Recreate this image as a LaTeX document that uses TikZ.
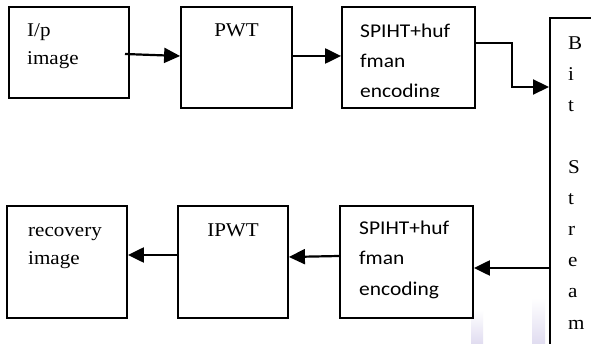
\documentclass[tikz,border=0pt]{standalone}
\usepackage{fontspec}
\setmainfont{Liberation Serif}[FakeStretch=1.08]
\newfontfamily\calib{Carlito}[FakeStretch=1.1]
\usetikzlibrary{arrows.meta}
\definecolor{lav}{RGB}{224,220,240}
\tikzset{
  box/.style 2 args={draw, line width=1.8pt, inner sep=0pt, minimum width=#1, minimum height=#2},
  arr/.style={line width=2.2pt, -{Triangle[length=16pt,width=15pt]}},
  txt/.style={anchor=base west, inner sep=0pt, font=\fontsize{19.5}{28}\selectfont},
  stxt/.style={anchor=base west, inner sep=0pt, font=\calib\fontsize{19.5}{29}\selectfont},
  ctxt/.style={anchor=base, inner sep=0pt, font=\fontsize{19.5}{28}\selectfont}
}
\begin{document}
\begin{tikzpicture}[x=1pt,y=-1pt]
\useasboundingbox (0,0) rectangle (591,344);
\clip (0,0) rectangle (591,344);
\fill[white] (0,0) rectangle (591,344);
% faint watermark bars
\shade[top color=white, bottom color=lav] (471,310) rectangle (483,344);
\shade[top color=white, bottom color=lav] (532,298) rectangle (545,344);
% boxes
\node[box={120pt}{91pt}] (b1) at (69,52.5) {};
\node[box={111pt}{101pt}] (b2) at (236.5,57.5) {};
\node[box={133pt}{101pt}] (b3) at (408.5,57.5) {};
\node[draw, line width=1.8pt, inner sep=0pt, anchor=north west, minimum width=90pt, minimum height=360pt] (bit) at (549,17) {};
\node[box={133pt}{112pt}] (b4) at (406.5,262) {};
\node[box={110pt}{112pt}] (b5) at (233,262) {};
\node[box={120pt}{112pt}] (b6) at (67,262) {};
% texts
\node[txt] (t1a) at (27,37) {I/p};
\node[txt] (t1b) at (27,65) {image};
\node[ctxt] (t2) at (b2.center |- 0,37) {PWT};
\begin{scope}
\clip (342,7) rectangle (475,96.5);
\node[stxt] (t3a) at (360,38) {SPIHT+huf};
\node[stxt] (t3b) at (360,68) {fman};
\node[stxt] (t3c) at (360,97.5) {encoding};
\end{scope}
\node[stxt] (t4a) at (359,235) {SPIHT+huf};
\node[stxt] (t4b) at (359,265) {fman};
\node[stxt] (t4c) at (359,295) {encoding};
\node[ctxt] (t5) at (b5.center |- 0,237) {IPWT};
\node[txt] (t6a) at (28,237) {recovery};
\node[txt] (t6b) at (28,265) {image};
\foreach \l [count=\i from 0] in {B,i,t,{},S,t,r,e,a,m}{
  \node[txt] (bs\i) at (568,50+31*\i) {\l};
}
% connectors
\coordinate (a1s) at (125,54);
\draw[arr] (a1s) -- (b2.west |- 0,56);
\draw[arr] (b2.east |- 0,56) -- (b3.west |- 0,56);
\coordinate (k1) at (512,43);
\coordinate (k2) at (512,87);
\draw[arr] (b3.east |- 0,43) -- (k1) -- (k2) -- (bit.west |- 0,87);
\draw[arr] (bit.west |- 0,268) -- (b4.east |- 0,268);
\draw[arr] (b4.west |- 0,256) -- (b5.east |- 0,257);
\draw[arr] (b5.west |- 0,255) -- (b6.east |- 0,255);
\end{tikzpicture}
\end{document}
